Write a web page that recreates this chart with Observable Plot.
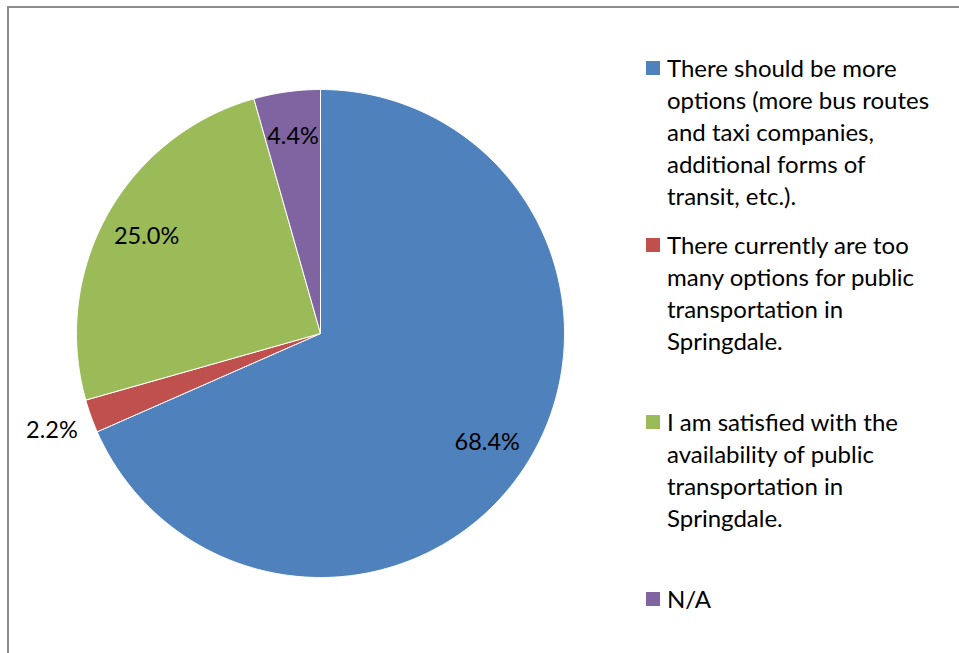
<!DOCTYPE html>
<html><head><meta charset="utf-8">
<script src="https://cdn.jsdelivr.net/npm/d3@7"></script>
<script src="https://cdn.jsdelivr.net/npm/@observablehq/plot@0.6"></script>
<style>
body{margin:0;background:#fff;}
#wrap{position:relative;width:959px;height:653px;overflow:hidden;font-family:Lato,"Open Sans",sans-serif;}
#frame{position:absolute;left:7px;top:6px;width:1000px;height:700px;border-top:2px solid #8c8c8c;border-left:2px solid #8c8c8c;}
#chart{position:absolute;left:0;top:0;}
.item{position:absolute;left:646px;font-size:24px;line-height:32px;color:#000;}
.sw{position:absolute;left:0;top:9px;width:14px;height:14px;}
.tx{position:absolute;left:21px;top:0;white-space:nowrap;}
</style></head>
<body>
<div id="wrap"><div id="frame"></div><div id="chart"></div><div id="legend"></div></div>
<script>
const categories = [
  "There should be more options (more bus routes and taxi companies, additional forms of transit, etc.).",
  "There currently are too many options for public transportation in Springdale.",
  "I am satisfied with the availability of public transportation in Springdale.",
  "N/A"
];
const legendLines = [
  ["There should be more","options (more bus routes","and taxi companies,","additional forms of","transit, etc.)."],
  ["There currently are too","many options for public","transportation in","Springdale."],
  ["I am satisfied with the","availability of public","transportation in","Springdale."],
  ["N/A"]
];
const values = [68.4, 2.2, 25.0, 4.4];
const colors = ["#4F81BD", "#C0504D", "#9BBB59", "#8064A2"];

const W = 959, H = 653, cx = 320, cy = 333, R = 244;
const total = d3.sum(values);
const poly = [];
const labels = [];
let acc = 0;
values.forEach((v, i) => {
  const a0 = acc / total * 2 * Math.PI;
  acc += v;
  const a1 = acc / total * 2 * Math.PI;
  const n = Math.max(2, Math.ceil((a1 - a0) / 0.01));
  poly.push({cat: categories[i], x: 0, y: 0});
  for (let k = 0; k <= n; k++) {
    const a = a0 + (a1 - a0) * k / n;
    poly.push({cat: categories[i], x: Math.sin(a), y: Math.cos(a)});
  }
  poly.push({cat: categories[i], x: 0, y: 0});
  const am = (a0 + a1) / 2;
  const rr = v < 3 ? 1.17 : 0.816;
  labels.push({x: rr * Math.sin(am), y: rr * Math.cos(am), text: v.toFixed(1) + "%"});
});

const chart = Plot.plot({
  width: W, height: H,
  margin: 0,
  x: {domain: [-cx / R, (W - cx) / R], range: [0, W], axis: null},
  y: {domain: [-(H - cy) / R, cy / R], range: [H, 0], axis: null},
  color: {domain: categories, range: colors},
  marks: [
    Plot.line(poly, {x: "x", y: "y", z: "cat", fill: "cat", stroke: "white", strokeWidth: 1, curve: "linear"}),
    Plot.text(labels, {x: "x", y: "y", text: "text", fontSize: 23.5, fill: "black", fontFamily: "Lato, sans-serif"})
  ]
});
chart.style.background = "transparent";
document.getElementById("chart").appendChild(chart);

const tops = [52, 229, 406, 583];
const leg = document.getElementById("legend");
categories.forEach((c, i) => {
  const d = document.createElement("div");
  d.className = "item";
  d.style.top = tops[i] + "px";
  const s = document.createElement("div");
  s.className = "sw"; s.style.background = colors[i];
  const t = document.createElement("div");
  t.className = "tx";
  t.innerHTML = legendLines[i].map(l => l.replace(/&/g,"&amp;")).join("<br>");
  d.appendChild(s); d.appendChild(t);
  leg.appendChild(d);
});
</script>
</body></html>
